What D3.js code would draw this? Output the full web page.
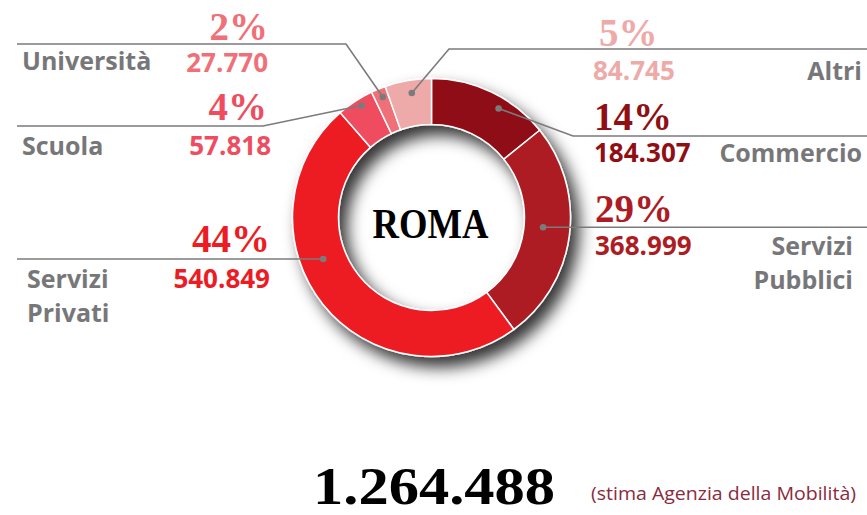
<!DOCTYPE html>
<html>
<head>
<meta charset="utf-8">
<script src="https://cdn.jsdelivr.net/npm/d3@7"></script>
<style>
  html, body { margin: 0; padding: 0; background: #fff; }
  svg { display: block; }
</style>
</head>
<body>
<script>
// data
const categories = ["Commercio", "Servizi Pubblici", "Servizi Privati", "Scuola", "Università", "Altri"];
const values = [184307, 368999, 540849, 57818, 27770, 84745];
const percentLabels = ["14%", "29%", "44%", "4%", "2%", "5%"];
// share of the ring each slice takes in the drawing (%)
const arcShare = [14.2, 25.7, 48.7, 4.3, 1.7, 5.4];
const labelLines = [["Commercio"], ["Servizi", "Pubblici"], ["Servizi", "Privati"], ["Scuola"], ["Università"], ["Altri"]];
const centerTitle = "ROMA";
const noteText = "(stima Agenzia della Mobilità)";

const colors = ["#8f0f14", "#ad1c23", "#ed1c24", "#ef4d5f", "#f07078", "#eeaaa8"];

// label layout: dot (angle deg, radius), elbow, line end, text anchors
const layout = [
  {dotA: 31.6, dotR: 128, elbow: [573, 136], endX: 867, side: "r", pct: [594, 130], val: [594, 162], lab: [862, 162]},
  {dotA: 95,   dotR: 112, elbow: null,       endX: 867, side: "r", pct: [595, 222], val: [595, 255], lab: [853, 255]},
  {dotA: 249,  dotR: 116, elbow: null,       endX: 17,  side: "l", pct: [270, 252], val: [270, 288], lab: [27, 288]},
  {dotA: 328,  dotR: 132, elbow: [263, 126], endX: 17,  side: "l", pct: [267, 120], val: [271, 155], lab: [22, 155]},
  {dotA: 338,  dotR: 130, elbow: [346, 44],  endX: 17,  side: "l", pct: [268, 40],  val: [268, 72],  lab: [22, 70]},
  {dotA: 351,  dotR: 126, elbow: [449, 49],  endX: 867, side: "r", pct: [599, 46],  val: [593, 80],  lab: [862, 80]}
];

const width = 867, height = 515;
const cx = 431.5, cy = 217.5;
const fmt = d3.formatLocale({decimal: ",", thousands: ".", grouping: [3], currency: ["", "€"]}).format(",d");

const svg = d3.select("body").append("svg")
  .attr("width", width)
  .attr("height", height);

const defs = svg.append("defs");
const filt = defs.append("filter")
  .attr("id", "shadow")
  .attr("x", "-30%").attr("y", "-30%")
  .attr("width", "160%").attr("height", "160%");
filt.append("feDropShadow")
  .attr("dx", 8).attr("dy", 10)
  .attr("stdDeviation", 8)
  .attr("flood-color", "#000")
  .attr("flood-opacity", 0.8);

const pie = d3.pie().sort(null).value(i => arcShare[i]);
const arcs = pie(d3.range(categories.length));

const arc = d3.arc().innerRadius(93).outerRadius(139);

const ring = svg.append("g")
  .attr("transform", `translate(${cx},${cy})`)
  .attr("filter", "url(#shadow)");

ring.selectAll("path")
  .data(arcs)
  .enter()
  .append("path")
  .attr("d", arc)
  .attr("fill", d => colors[d.data])
  .attr("stroke", "#fff")
  .attr("stroke-width", 1.5);

// centre title
svg.append("text")
  .attr("x", cx - 1)
  .attr("y", 238)
  .attr("text-anchor", "middle")
  .attr("font-family", "Liberation Serif")
  .attr("font-weight", "bold")
  .attr("font-size", 42)
  .attr("textLength", 116)
  .attr("lengthAdjust", "spacingAndGlyphs")
  .attr("fill", "#000")
  .text(centerTitle);

// leader lines and dots
const lines = svg.append("g");
layout.forEach((L, i) => {
  const p = d3.pointRadial(L.dotA * Math.PI / 180, L.dotR);
  const dot = [cx + p[0], cy + p[1]];
  const pts = [dot];
  if (L.elbow) {
    pts.push(L.elbow);
    pts.push([L.endX, L.elbow[1]]);
  } else {
    pts.push([L.endX, dot[1]]);
  }
  lines.append("path")
    .attr("d", d3.line()(pts))
    .attr("fill", "none")
    .attr("stroke", "#7b7b7d")
    .attr("stroke-width", 1.6);
  lines.append("circle")
    .attr("cx", dot[0]).attr("cy", dot[1])
    .attr("r", 3.3)
    .attr("fill", "#7b7b7d");
});

// labels
const labels = svg.append("g");
layout.forEach((L, i) => {
  const anchorNum = L.side === "l" ? "end" : "start";
  const anchorLab = L.side === "l" ? "start" : "end";

  labels.append("text")
    .attr("x", L.pct[0]).attr("y", L.pct[1])
    .attr("text-anchor", anchorNum)
    .attr("font-family", "Liberation Serif")
    .attr("font-weight", "bold")
    .attr("font-size", 39)
    .attr("fill", colors[i])
    .text(percentLabels[i]);

  labels.append("text")
    .attr("x", L.val[0]).attr("y", L.val[1])
    .attr("text-anchor", anchorNum)
    .attr("font-family", "Open Sans")
    .attr("font-weight", "bold")
    .attr("font-size", 26)
    .attr("fill", colors[i])
    .text(fmt(values[i]));

  labelLines[i].forEach((t, j) => {
    labels.append("text")
      .attr("x", L.lab[0]).attr("y", L.lab[1] + j * 34)
      .attr("text-anchor", anchorLab)
      .attr("font-family", "Open Sans")
      .attr("font-weight", "bold")
      .attr("font-size", 25)
      .attr("fill", "#77777a")
      .text(t);
  });
});

// total
svg.append("text")
  .attr("x", 313).attr("y", 504)
  .attr("font-family", "Liberation Serif")
  .attr("font-weight", "bold")
  .attr("font-size", 52)
  .attr("textLength", 242)
  .attr("lengthAdjust", "spacingAndGlyphs")
  .attr("fill", "#000")
  .text(fmt(d3.sum(values)));

svg.append("text")
  .attr("x", 591).attr("y", 500)
  .attr("font-family", "Open Sans")
  .attr("font-size", 19)
  .attr("textLength", 265)
  .attr("lengthAdjust", "spacingAndGlyphs")
  .attr("fill", "#8a2b3c")
  .text(noteText);
</script>
</body>
</html>
